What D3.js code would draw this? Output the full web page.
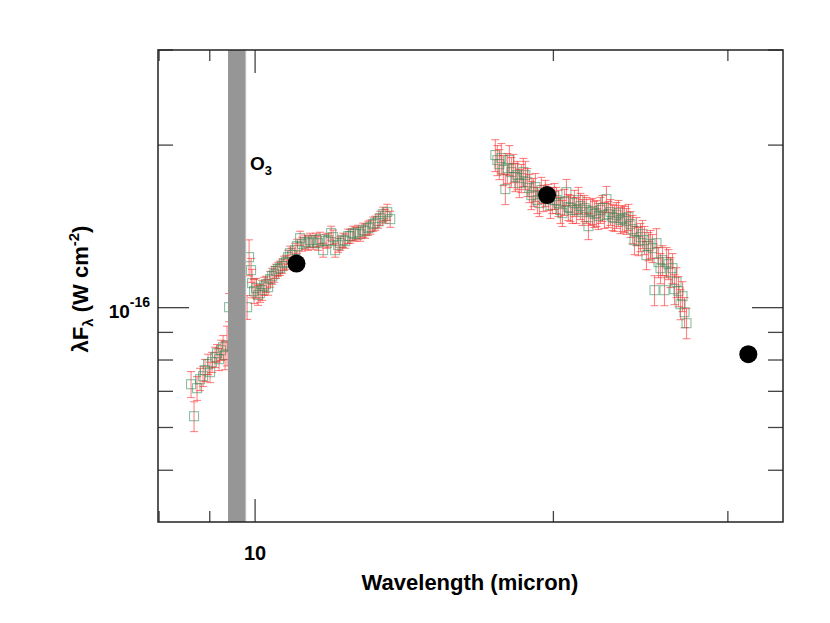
<!DOCTYPE html>
<html><head><meta charset="utf-8">
<script src="https://cdn.jsdelivr.net/npm/d3@7"></script>
<style>body{margin:0;background:#fff}</style>
</head><body><svg id="c" width="830" height="623"></svg>
<script>
// ---- data (flux in units of 1e-16 W cm^-2) ----
const fluxUnit = 1e-16;
const nWave = [8.617,8.677,8.738,8.799,8.861,8.902,8.964,9.006,9.048,9.112,9.154,9.197,9.240,9.283,9.326,9.369,9.413,
 9.816,9.861,9.907,9.930,9.977,10.023,10.070,10.117,10.164,10.212,10.259,10.307,10.355,10.403,10.452,10.500,10.549,10.599,
 10.648,10.698,10.747,10.797,10.848,10.898,10.975,11.026,11.103,11.155,11.233,11.312,11.364,11.444,11.524,11.578,11.632,
 11.713,11.796,11.850,11.933,11.989,12.045,12.129,12.186,12.271,12.329,12.415,12.473,12.560,12.619,12.707,12.766,12.856,
 12.916,13.006,13.067,13.158,13.220,13.312,13.374,13.468,13.531,13.594,13.689];
const nFlux = [0.7216,0.6295,0.7094,0.7371,0.7466,0.7660,0.7859,0.7595,0.7926,0.8097,0.8236,0.8028,0.8342,0.8449,0.8166,0.8521,1.0021,
 1.0021,1.2404,1.1735,1.1102,1.0729,1.0867,1.0548,1.0638,1.0775,1.0960,1.1054,1.0914,1.1293,1.1438,1.1536,1.1685,1.1785,1.1835,
 1.1936,1.2090,1.2142,1.2404,1.2617,1.2510,1.2780,1.2999,1.3451,1.3111,1.3224,1.3167,1.3337,1.3224,1.3337,1.3167,1.3394,
 1.2780,1.3280,1.3337,1.3741,1.3508,1.2780,1.3055,1.3167,1.3337,1.3280,1.3566,1.3566,1.3741,1.3683,1.3800,1.3683,1.3918,
 1.3859,1.4037,1.4097,1.4279,1.4339,1.4463,1.4649,1.4901,1.4775,1.5029,1.4587];
const nErr = [0.040,0.040,0.036,0.035,0.032,0.036,0.034,0.033,0.034,0.035,0.031,0.038,0.036,0.043,0.049,0.072,0.060,
 0.051,0.095,0.060,0.067,0.055,0.046,0.045,0.041,0.046,0.042,0.038,0.037,0.038,0.039,0.039,0.035,0.035,0.036,
 0.036,0.036,0.036,0.037,0.038,0.038,0.038,0.039,0.040,0.039,0.040,0.040,0.040,0.040,0.040,0.040,0.040,
 0.038,0.040,0.040,0.041,0.041,0.038,0.039,0.040,0.040,0.040,0.041,0.041,0.041,0.041,0.041,0.041,0.042,
 0.042,0.042,0.042,0.043,0.043,0.043,0.044,0.045,0.044,0.051,0.050];

const qWave = [17.477,17.558,17.640,17.722,17.805,17.888,17.971,18.055,18.139,18.224,18.309,18.394,18.480,18.566,18.653,
 18.740,18.827,18.915,19.003,19.092,19.181,19.270,19.360,19.450,19.541,19.632,19.769,19.862,19.954,20.047,20.141,20.235,
 20.329,20.424,20.519,20.615,20.711,20.807,20.904,21.002,21.100,21.198,21.297,21.396,21.496,21.596,21.697,21.798,21.900,
 22.002,22.104,22.207,22.311,22.415,22.520,22.625,22.730,22.836,22.942,23.049,23.157,23.265,23.373,23.482,23.592,23.702,
 23.812,23.923,24.035,24.147,24.260,24.373,24.486,24.600,24.715,24.830,24.946,25.063,25.179,25.297,25.415,25.533,25.652,
 25.772,25.892,26.013,26.134,26.256,26.378,26.501,26.625,26.749,26.874,26.999,27.125,27.251];
const qFlux = [1.9165,1.8761,1.8443,1.8921,1.7978,1.6578,1.8133,1.8761,1.7825,1.8133,1.7450,1.7599,1.7008,1.7375,1.7825,
 1.7599,1.7080,1.6649,1.6159,1.6366,1.6720,1.5818,1.5618,1.6508,1.5954,1.6297,1.6022,1.5485,1.5818,1.6090,1.5818,1.5618,
 1.5158,1.4965,1.5684,1.6366,1.5353,1.5288,1.5158,1.5618,1.5158,1.5818,1.5419,1.5029,1.5288,1.5158,1.4157,1.5029,1.5093,
 1.4901,1.4965,1.4775,1.5158,1.5288,1.4838,1.5886,1.4901,1.5029,1.4712,1.4649,1.4838,1.4965,1.4524,1.4649,1.4587,1.4463,
 1.4712,1.4279,1.3977,1.3337,1.3859,1.3280,1.3508,1.3683,1.3337,1.2510,1.2999,1.3111,1.2889,1.0775,1.3167,1.2142,1.1835,
 1.2246,1.0775,1.2142,1.2039,1.1635,1.1835,1.0821,1.1149,1.0729,1.0150,1.0503,0.9810,0.9360];
const qErr = [0.130,0.120,0.118,0.121,0.115,0.106,0.116,0.120,0.114,0.109,0.105,0.106,0.102,0.104,0.107,
 0.106,0.102,0.100,0.097,0.098,0.100,0.088,0.087,0.092,0.089,0.091,0.089,0.086,0.088,0.089,0.088,0.087,
 0.084,0.083,0.087,0.091,0.085,0.085,0.084,0.087,0.084,0.088,0.086,0.083,0.085,0.084,0.079,0.083,0.084,
 0.083,0.083,0.082,0.084,0.085,0.082,0.088,0.083,0.083,0.082,0.081,0.082,0.083,0.081,0.081,0.081,0.080,
 0.082,0.079,0.084,0.080,0.083,0.080,0.081,0.082,0.080,0.075,0.078,0.079,0.077,0.069,0.084,0.078,0.076,
 0.078,0.069,0.078,0.077,0.074,0.076,0.069,0.071,0.069,0.065,0.067,0.063,0.060];

const photWave = [11.01, 19.71, 31.46];
const photFlux = [1.207, 1.616, 0.820];

const o3Band = [9.39, 9.79];
const xTicks = [8, 9, 10, 20, 30];
const xMajor = [10];
const yTicks = [5e-17, 6e-17, 7e-17, 8e-17, 9e-17, 1e-16, 2e-16, 3e-16];
const yMajor = [1e-16];

// ---- drawing ----
const svg = d3.select("#c");
const L = 158, R = 783, T = 50, B = 522;
const x = d3.scaleLog().domain([7.98, 34.1]).range([L, R]);
const y = d3.scaleLog().domain([4.01e-17, 3.0e-16]).range([B, T]);
const font = "'Liberation Sans', Arial, Helvetica, sans-serif";

svg.append("clipPath").attr("id", "pc").append("rect")
  .attr("x", L).attr("y", T).attr("width", R - L).attr("height", B - T);
const plot = svg.append("g").attr("clip-path", "url(#pc)");

function drawSpec(wave, flux, err) {
  const pts = wave.map((w, i) => ({w, f: flux[i] * fluxUnit, e: err[i] * fluxUnit}));
  const g = plot.append("g");
  pts.forEach(p => {
    const cx = x(p.w), y0 = y(p.f - p.e), y1 = y(p.f + p.e), cw = 4;
    const eb = g.append("g").attr("stroke", "#ff2020").attr("stroke-opacity", 0.55).attr("stroke-width", 1.1);
    eb.append("line").attr("x1", cx).attr("x2", cx).attr("y1", y0).attr("y2", y1);
    eb.append("line").attr("x1", cx - cw).attr("x2", cx + cw).attr("y1", y0).attr("y2", y0);
    eb.append("line").attr("x1", cx - cw).attr("x2", cx + cw).attr("y1", y1).attr("y2", y1);
    const s = 9;
    g.append("rect").attr("x", cx - s / 2).attr("y", y(p.f) - s / 2).attr("width", s).attr("height", s)
      .attr("fill", "none").attr("stroke", "#2e8b57").attr("stroke-opacity", 0.55).attr("stroke-width", 1.1);
  });
}
drawSpec(nWave, nFlux, nErr);
drawSpec(qWave, qFlux, qErr);

// O3 band (drawn over data)
plot.append("rect").attr("x", x(o3Band[0])).attr("y", T)
  .attr("width", x(o3Band[1]) - x(o3Band[0])).attr("height", B - T).attr("fill", "#969696");
plot.append("rect").attr("x", x(o3Band[1]) - 1).attr("y", T)
  .attr("width", 1.2).attr("height", B - T).attr("fill", "#bdbdbd");

// photometry
plot.selectAll("circle.ph").data(photWave).enter().append("circle")
  .attr("cx", d => x(d)).attr("cy", (d, i) => y(photFlux[i] * fluxUnit)).attr("r", 9).attr("fill", "#000");

// ticks
const tg = svg.append("g").attr("stroke", "#444").attr("stroke-width", 1.3);
xTicks.forEach(t => {
  const px = x(t), len = xMajor.includes(t) ? 23 : 11;
  tg.append("line").attr("x1", px).attr("x2", px).attr("y1", B).attr("y2", B - len);
  tg.append("line").attr("x1", px).attr("x2", px).attr("y1", T).attr("y2", T + len);
});
yTicks.forEach(t => {
  const py = y(t), len = yMajor.includes(t) ? 31 : 15;
  tg.append("line").attr("x1", L).attr("x2", L + len).attr("y1", py).attr("y2", py);
  tg.append("line").attr("x1", R).attr("x2", R - len).attr("y1", py).attr("y2", py);
});

// frame
svg.append("rect").attr("x", L).attr("y", T).attr("width", R - L).attr("height", B - T)
  .attr("fill", "none").attr("stroke", "#222").attr("stroke-width", 1.5);

// labels
xMajor.forEach(t => {
  svg.append("text").attr("x", x(t)).attr("y", 560).attr("text-anchor", "middle")
    .attr("font-family", font).attr("font-weight", "bold").attr("font-size", 20).text("10");
});
yMajor.forEach(t => {
  const tx = svg.append("text").attr("x", 150).attr("y", y(t) + 10).attr("text-anchor", "end")
    .attr("font-family", font).attr("font-weight", "bold").attr("font-size", 19);
  tx.append("tspan").text("10");
  tx.append("tspan").attr("dy", -11).attr("font-size", 14).text("-16");
});

svg.append("text").attr("x", 470).attr("y", 590).attr("text-anchor", "middle")
  .attr("font-family", font).attr("font-weight", "bold").attr("font-size", 22).text("Wavelength (micron)");

const yl = svg.append("text").attr("transform", "translate(88,289) rotate(-90)").attr("text-anchor", "middle")
  .attr("font-family", font).attr("font-weight", "bold").attr("font-size", 22);
yl.append("tspan").text("λF");
yl.append("tspan").attr("dy", 5).attr("font-size", 15).text("λ");
yl.append("tspan").attr("dy", -5).text(" (W cm");
yl.append("tspan").attr("dy", -9).attr("font-size", 15).text("-2");
yl.append("tspan").attr("dy", 9).text(")");

const o3 = svg.append("text").attr("x", 250).attr("y", 170)
  .attr("font-family", font).attr("font-weight", "bold").attr("font-size", 19);
o3.append("tspan").text("O");
o3.append("tspan").attr("dy", 5).attr("font-size", 13).text("3");
</script></body></html>
